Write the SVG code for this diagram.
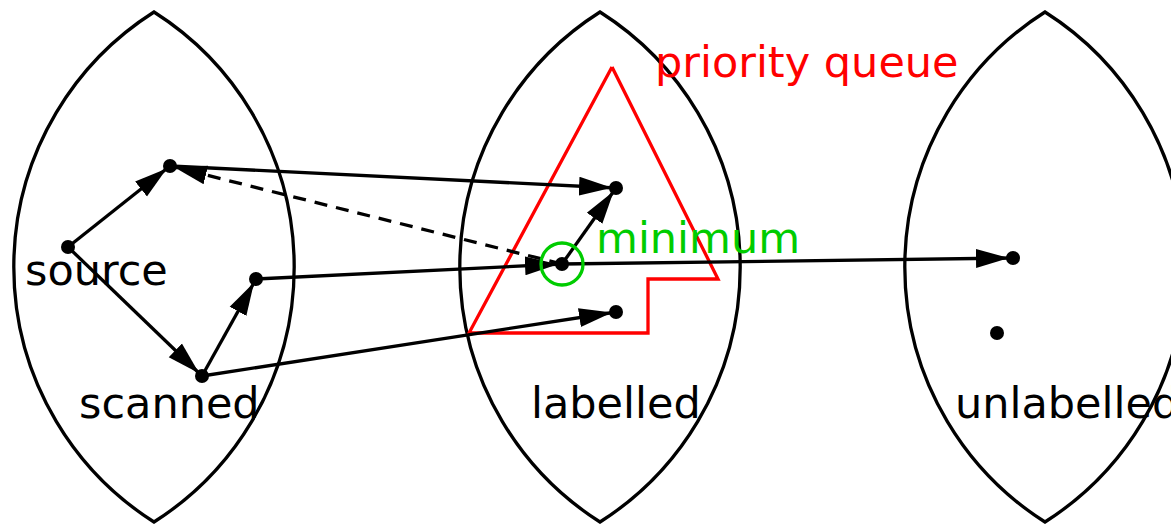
<svg xmlns="http://www.w3.org/2000/svg" width="1171" height="526" viewBox="0 0 1171 526">
<style>
.lens{fill:none;stroke:#000;stroke-width:3.3}
.edge{fill:none;stroke:#000;stroke-width:3.3}
.dash{stroke-dasharray:13 9}
.dot{fill:#000}
.lbl{font-family:"DejaVu Sans",sans-serif;font-size:43px;fill:#000}
</style>
<defs>
<marker id="ah" markerUnits="userSpaceOnUse" markerWidth="40" markerHeight="22" viewBox="0 0 40 22" refX="37" refY="11" orient="auto">
<path d="M0,1.5 L33,11 L0,20.5 z" fill="#000"/>
</marker>
</defs>
<g id="sets">
<path class="lens" d="M154,12 A302,302 0 0,0 154,522 A302,302 0 0,0 154,12 Z"/>
<path class="lens" d="M600,12 A302,302 0 0,0 600,522 A302,302 0 0,0 600,12 Z"/>
<path class="lens" d="M1045,12 A302,302 0 0,0 1045,522 A302,302 0 0,0 1045,12 Z"/>
</g>
<g id="pq">
<path d="M612,67 L718,279 L648,279 L648,333 L469,333 L612,67" fill="none" stroke="#ff0000" stroke-width="3.3"/>
<text x="655" y="77" class="lbl" style="fill:#ff0000">priority queue</text>
</g>
<g id="connectors">
<line class="edge" x1="68" y1="247" x2="170" y2="166" marker-end="url(#ah)"/>
<line class="edge" x1="68" y1="247" x2="202" y2="376" marker-end="url(#ah)"/>
<line class="edge" x1="202" y1="376" x2="256" y2="279" marker-end="url(#ah)"/>
<line class="edge" x1="170" y1="166" x2="616" y2="188" marker-end="url(#ah)"/>
<line class="edge dash" x1="562" y1="264" x2="170" y2="166" marker-end="url(#ah)"/>
<line class="edge" x1="256" y1="279" x2="562" y2="264" marker-end="url(#ah)"/>
<line class="edge" x1="562" y1="264" x2="616" y2="188" marker-end="url(#ah)"/>
<line class="edge" x1="202" y1="376" x2="616" y2="312" marker-end="url(#ah)"/>
<line class="edge" x1="562" y1="264" x2="1013" y2="258" marker-end="url(#ah)"/>
</g>
<g id="n-source"><circle class="dot" cx="68" cy="247" r="7"/><text x="25" y="285" class="lbl">source</text></g>
<g id="n-s1"><circle class="dot" cx="170" cy="166" r="7"/></g>
<g id="n-s2"><circle class="dot" cx="256" cy="279" r="7"/></g>
<g id="n-s3"><circle class="dot" cx="202" cy="376" r="7"/></g>
<g id="n-l1"><circle class="dot" cx="616" cy="188" r="7"/></g>
<g id="n-min"><circle class="dot" cx="562" cy="264" r="7"/><circle cx="562" cy="264" r="21" fill="none" stroke="#00cc00" stroke-width="3.3"/><text x="596" y="253" class="lbl" style="fill:#00cc00">minimum</text></g>
<g id="n-l2"><circle class="dot" cx="616" cy="312" r="7"/></g>
<g id="n-u1"><circle class="dot" cx="1013" cy="258" r="7"/></g>
<g id="n-u2"><circle class="dot" cx="997" cy="333" r="7"/></g>
<g id="labels">
<text x="79" y="418" class="lbl">scanned</text>
<text x="531" y="418" class="lbl">labelled</text>
<text x="955" y="418" class="lbl">unlabelled</text>
</g>
</svg>
